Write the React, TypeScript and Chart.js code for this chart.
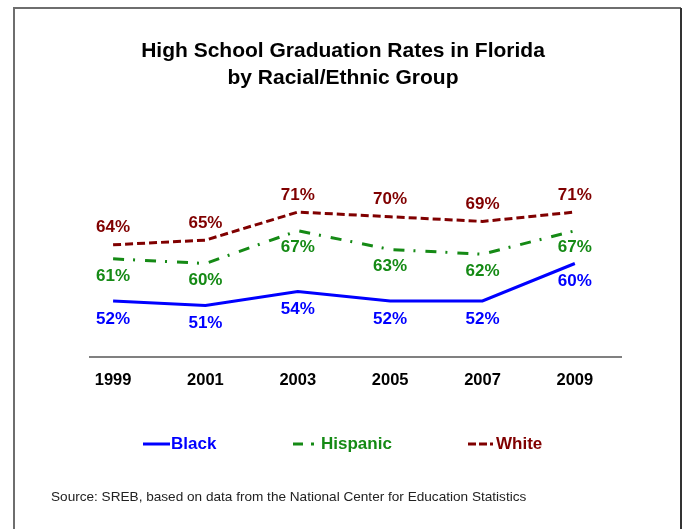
import { useEffect, useRef } from "react";
import { Chart, registerables } from "chart.js";
Chart.register(...registerables);

const years = [1999, 2001, 2003, 2005, 2007, 2009];
const black = [52, 51, 54, 52, 52, 60];
const hispanic = [61, 60, 67, 63, 62, 67];
const white = [64, 65, 71, 70, 69, 71];
const seriesNames = ["Black", "Hispanic", "White"];
const seriesColors = ["#0000ff", "#158a15", "#800000"];
const titleLines = ["High School Graduation Rates in Florida", "by Racial/Ethnic Group"];
const sourceText = "Source: SREB, based on data from the National Center for Education Statistics";

const FONT = "'Liberation Sans', Arial, sans-serif";
const dashes: number[][] = [[], [11, 9, 2, 10], [8, 4]];
const legendDashes: number[][] = [[], [10, 8, 3, 100], [8, 3, 8, 3, 3, 100]];
const labelOffsets = [18, 17, -17];

const decorPlugin = {
  id: "decor",
  afterDatasetsDraw(chart: any) {
    const ctx = chart.ctx;
    ctx.save();
    ctx.font = `bold 17px ${FONT}`;
    ctx.textAlign = "center";
    ctx.textBaseline = "middle";
    chart.data.datasets.forEach((ds: any, i: number) => {
      const meta = chart.getDatasetMeta(i);
      ctx.fillStyle = ds.borderColor;
      meta.data.forEach((pt: any, j: number) => {
        const v = ds.data[j].y;
        ctx.fillText(`${v}%`, pt.x, pt.y + labelOffsets[i]);
      });
    });
    ctx.restore();
  },
  afterDraw(chart: any) {
    const ctx = chart.ctx;
    ctx.save();
    // border
    ctx.lineWidth = 2;
    ctx.strokeStyle = "#6e6e6e";
    ctx.beginPath();
    ctx.moveTo(14, 540);
    ctx.lineTo(14, 8);
    ctx.lineTo(681, 8);
    ctx.stroke();
    ctx.strokeStyle = "#333333";
    ctx.beginPath();
    ctx.moveTo(681, 8);
    ctx.lineTo(681, 540);
    ctx.stroke();
    // title
    ctx.fillStyle = "#000";
    ctx.textAlign = "center";
    ctx.textBaseline = "middle";
    ctx.font = `bold 21px ${FONT}`;
    ctx.fillText(titleLines[0], 343, 51);
    ctx.fillText(titleLines[1], 343, 78);
    // legend
    const legendX = [143, 293, 468];
    const legendLen = [27, 27, 27];
    const legendY = 444;
    ctx.font = `bold 17px ${FONT}`;
    ctx.textAlign = "left";
    seriesNames.forEach((name, i) => {
      const x = legendX[i];
      ctx.strokeStyle = seriesColors[i];
      ctx.fillStyle = seriesColors[i];
      ctx.lineWidth = 3;
      ctx.setLineDash(legendDashes[i]);
      ctx.beginPath();
      ctx.moveTo(x, legendY);
      ctx.lineTo(x + legendLen[i], legendY);
      ctx.stroke();
      ctx.setLineDash([]);
      ctx.fillText(name, x + legendLen[i] + 1, legendY);
    });
    // source
    ctx.fillStyle = "#222";
    ctx.font = `13.6px ${FONT}`;
    ctx.fillText(sourceText, 51, 497);
    ctx.restore();
  },
};

export default function App() {
  const ref = useRef<HTMLCanvasElement | null>(null);
  useEffect(() => {
    if (!ref.current) return;
    const mk = (vals: number[]) => vals.map((v, i) => ({ x: years[i], y: v }));
    const chart = new Chart(ref.current, {
      type: "line",
      data: {
        datasets: [black, hispanic, white].map((vals, i) => ({
          label: seriesNames[i],
          data: mk(vals),
          borderColor: seriesColors[i],
          backgroundColor: seriesColors[i],
          borderWidth: 3,
          borderDash: dashes[i],
          borderCapStyle: "butt",
          pointRadius: 0,
          tension: 0,
          fill: false,
        })),
      },
      options: {
        animation: false,
        responsive: true,
        maintainAspectRatio: false,
        devicePixelRatio: 1,
        layout: { padding: { left: 90, right: 63, top: 170, bottom: 132 } },
        plugins: { legend: { display: false }, title: { display: false }, tooltip: { enabled: false } },
        scales: {
          x: {
            type: "linear",
            min: 1998.5,
            max: 2010,
            afterBuildTicks: (s: any) => {
              s.ticks = years.map((v) => ({ value: v }));
            },
            afterFit: (s: any) => {
              s.height = 40;
            },
            grid: { display: false, drawTicks: false },
            border: { display: true, color: "#808080", width: 2 },
            ticks: {
              autoSkip: false,
              maxRotation: 0,
              padding: 14,
              color: "#000",
              font: { family: FONT, size: 16.5, weight: "bold" },
              callback: (v: any) => String(v),
            },
          },
          y: { display: false, min: 40, max: 80 },
        },
      },
      plugins: [decorPlugin],
    });
    return () => chart.destroy();
  }, []);
  return (
    <div style={{ position: "absolute", left: 0, top: 0, width: 684, height: 529, background: "#fff" }}>
      <canvas ref={ref} />
    </div>
  );
}
